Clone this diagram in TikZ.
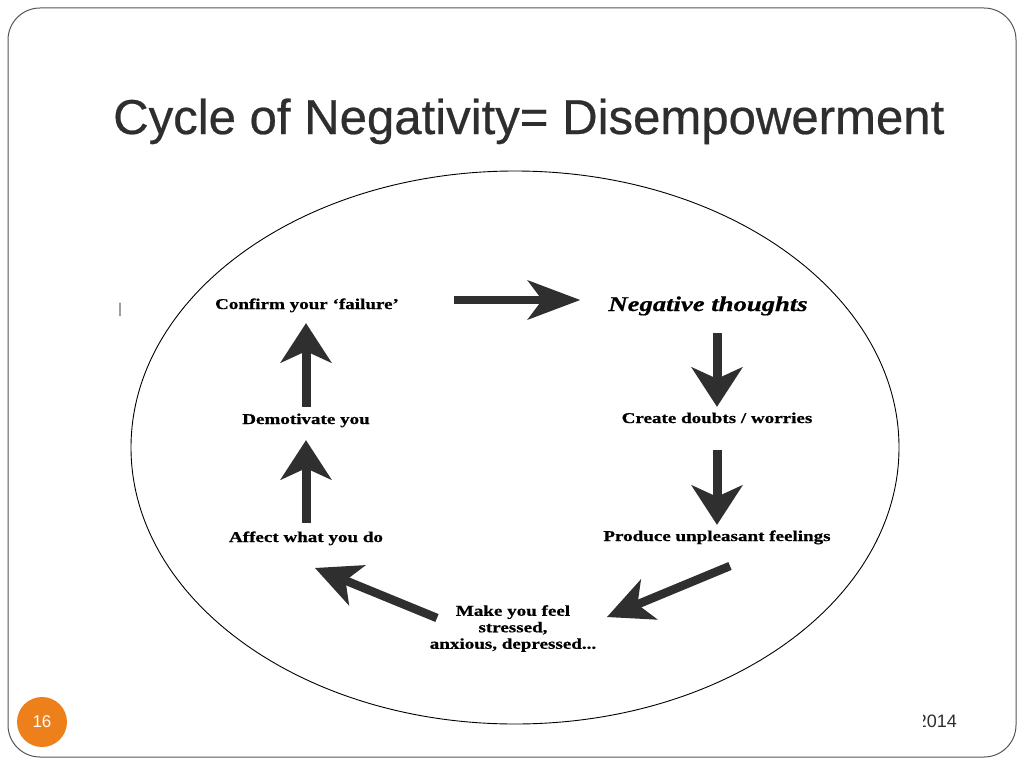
\documentclass[tikz,border=0pt]{standalone}
\usepackage{fontspec}
\usepackage{graphicx}
\setmainfont{Liberation Serif}[BoldFeatures={FakeBold=0.6}, BoldItalicFeatures={FakeBold=0.6}]
\newfontfamily\titlefont{Liberation Sans}[FakeBold=0.5]
\newfontfamily\footfont{Liberation Sans}
\usetikzlibrary{arrows.meta}
\definecolor{arrowgray}{HTML}{2F2F2F}
\definecolor{framegray}{HTML}{555555}
\definecolor{titlegray}{HTML}{2E2E2E}
\definecolor{slideorange}{HTML}{EE801C}
\newcommand{\dtext}[1]{\scalebox{1.27}[1]{#1}}
\tikzset{
  lbl/.style={inner sep=0pt, anchor=base, text height=11pt, text depth=3pt, font=\fontsize{15}{15}\selectfont\bfseries},
  biglbl/.style={inner sep=0pt, anchor=base, text height=15pt, text depth=5pt, font=\fontsize{21}{21}\selectfont\bfseries\itshape},
  hblk/.style={draw=arrowgray, line width=8.5pt, -{Stealth[length=53pt,width=40pt,inset=15pt,line width=0pt,fill=arrowgray]}},
  vblk/.style={draw=arrowgray, line width=9pt, -{Stealth[length=40pt,width=52pt,inset=12pt,line width=0pt,fill=arrowgray]}},
  dblk/.style={draw=arrowgray, line width=8.5pt, -{Stealth[length=46pt,width=44pt,inset=13pt,line width=0pt,fill=arrowgray]}}
}
\begin{document}
\begin{tikzpicture}[x=1pt,y=-1pt]
\useasboundingbox (0,0) rectangle (1024,768);
\fill[white] (0,0) rectangle (1024,768);
% slide frame
\draw[framegray, line width=1pt, rounded corners=32pt] (8,8) rectangle (1016,757);
% title
\node[anchor=base west, inner sep=0pt, text=titlegray] (title) at (113,134)
  {\titlefont\resizebox{831pt}{35.5pt}{Cycle of Negativity= Disempowerment}};
% ellipse
\draw[black, line width=0.9pt] (515,447.5) ellipse [x radius=384, y radius=276.5];
% stray mark
\node[inner sep=0pt, font=\fontsize{15}{15}\selectfont] (mark) at (120,310) {|};
% labels
\node[lbl] (confirm) at (307,309) {\dtext{Confirm your ‘failure’}};
\node[biglbl] (neg) at (708,311) {\dtext{Negative thoughts}};
\node[lbl] (create) at (717,423) {\dtext{Create doubts / worries}};
\node[lbl] (produce) at (717,541) {\dtext{Produce unpleasant feelings}};
\node[lbl] (demot) at (306,424) {\dtext{Demotivate you}};
\node[lbl] (affect) at (306,542) {\dtext{Affect what you do}};
\node[inner sep=0pt, anchor=north, font=\fontsize{15}{16.5}\selectfont\bfseries] (make) at (513,604)
  {\dtext{\begin{tabular}{@{}c@{}}Make you feel\\stressed,\\anxious, depressed...\end{tabular}}};
% arrow ends for diagonal arrows
\coordinate (d1s) at (730,566);
\coordinate (d1e) at (607,617);
\coordinate (d2s) at (437,618);
\coordinate (d2e) at (315,568);
% arrows
\draw[hblk, shorten <=55pt, shorten >=28pt] ([yshift=5pt]confirm.east) -- ([yshift=6pt]neg.west);
\draw[vblk, shorten <=17pt, shorten >=5pt] (neg.south -| create.north) -- (create.north);
\draw[vblk, shorten <=24pt, shorten >=5pt] (create.south) -- (produce.north);
\draw[dblk] (d1s) -- (d1e);
\draw[dblk] (d2s) -- (d2e);
\draw[vblk, shorten <=8pt, shorten >=13pt] (affect.north) -- (demot.south);
\draw[vblk, shorten <=6pt, shorten >=11pt] (demot.north) -- (confirm.south -| demot.north);
% footer
\fill[slideorange] (42,722) circle [radius=25];
\node[text=white, inner sep=0pt, font=\footfont\fontsize{17}{17}\selectfont] (num) at (42,722) {16};
\begin{scope}
\clip (923,700) rectangle (975,740);
\node[anchor=base east, inner sep=0pt, text=titlegray, font=\footfont\fontsize{18}{18}\selectfont] (year) at (957,727) {2014};
\end{scope}
\end{tikzpicture}
\end{document}
